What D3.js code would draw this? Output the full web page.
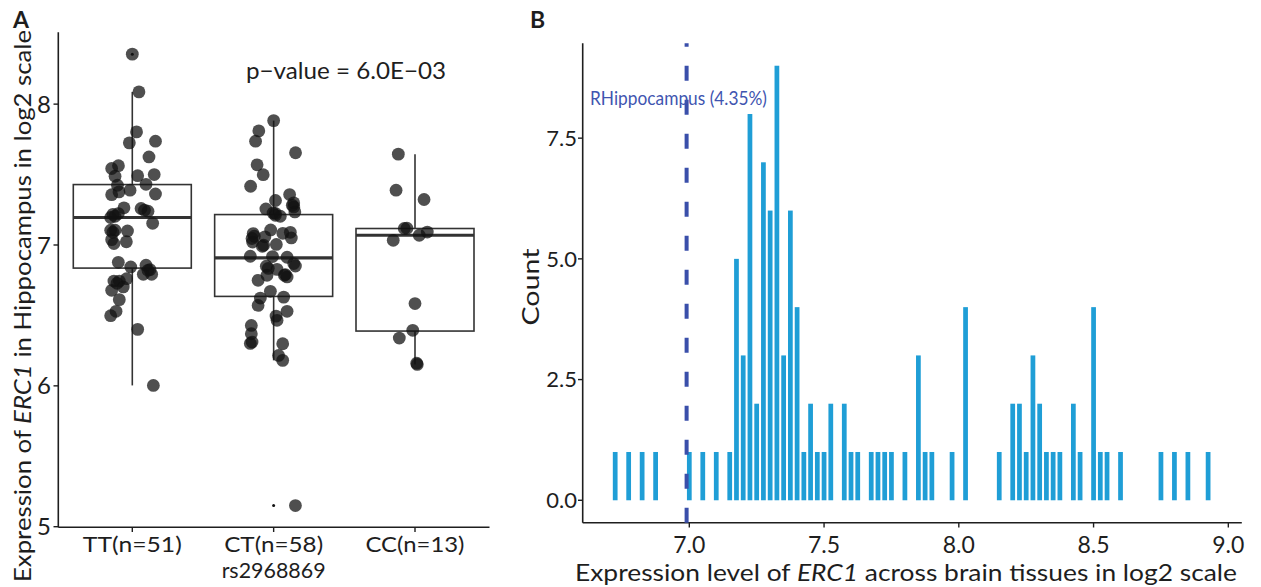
<!DOCTYPE html>
<html><head><meta charset="utf-8">
<script src="https://cdn.jsdelivr.net/npm/d3@7"></script>
<style>
body{margin:0;background:#fff;}
text{font-family:Lato,"Noto Sans",sans-serif;}
</style></head>
<body><svg id="c" width="1261" height="587"></svg>
<script>
// ---------- Panel A data ----------
const groups = ["TT(n=51)", "CT(n=58)", "CC(n=13)"];
const ttValues = [8.355,8.087,7.803,7.725,7.737,7.625,7.543,7.563,7.488,7.492,7.500,7.431,7.424,7.357,7.377,7.389,7.362,7.264,7.259,7.247,7.195,7.204,7.223,7.154,7.105,7.105,7.100,7.038,7.010,7.023,6.877,6.844,6.856,6.825,6.792,6.792,6.744,6.744,6.702,6.761,6.678,6.612,6.529,6.498,6.401,6.003,7.218,7.240,7.090,6.820,6.728];
const ttJitter = [0,0.047,0.030,-0.021,0.164,0.118,-0.146,-0.098,-0.122,0.038,0.155,0.097,-0.105,-0.146,-0.094,-0.016,0.164,-0.059,0.062,0.086,-0.153,-0.122,-0.099,0.144,-0.153,-0.122,-0.034,-0.146,-0.130,-0.042,-0.099,-0.011,0.097,0.125,0.078,0.137,-0.130,-0.092,-0.064,-0.040,-0.146,-0.092,-0.115,-0.153,0.038,0.149,-0.137,0.111,-0.137,0.111,-0.108];
const ctValues = [7.883,7.810,7.737,7.655,7.569,7.499,7.417,7.358,7.316,7.299,7.270,7.256,7.235,7.227,7.211,7.204,7.081,7.046,7.021,7.107,7.058,7.083,7.050,6.998,7.004,6.920,6.918,6.913,6.868,6.851,6.834,6.827,6.785,6.790,6.773,6.749,6.671,6.623,6.571,6.630,6.529,6.495,6.465,6.429,6.370,6.311,6.301,6.299,6.216,6.181,5.150,7.090,7.062,7.225,6.849,6.785,6.991,7.282];
const ctJitter = [0,-0.105,-0.128,0.155,-0.117,-0.074,-0.163,0.113,0.013,0.142,0.142,-0.055,0.150,-0.004,0.012,0.047,-0.145,-0.153,-0.149,-0.021,-0.062,0.065,0.125,-0.071,0.019,-0.165,-0.008,0.095,0.142,0.154,-0.038,0.024,-0.047,0.083,0.095,-0.110,-0.023,-0.094,-0.110,0.071,0.095,0.017,0.024,-0.158,-0.158,-0.153,-0.165,0.064,0.035,0.064,0.154,0.118,-0.137,0.012,-0.052,0.076,-0.080,0.132];
const ccValues = [7.645,7.389,7.323,7.117,7.033,7.069,7.092,6.584,6.394,6.339,6.161,6.152,7.119];
const ccJitter = [-0.118,-0.134,0.064,-0.076,-0.154,0.030,0.087,0,-0.016,-0.111,0.012,0.016,-0.057];
// box statistics
const boxLower  = [6.003, 6.181, 6.152];
const boxQ1     = [6.836, 6.635, 6.389];
const boxMedian = [7.195, 6.908, 7.069];
const boxQ3     = [7.429, 7.216, 7.117];
const boxUpper  = [8.087, 7.883, 7.645];
const outlierGroup = ["TT(n=51)", "CT(n=58)"];
const outlierValue = [8.355, 5.150];
const yTicksA = [5, 6, 7, 8];
const pValueText = "p\u2212value = 6.0E\u221203";

// ---------- Panel B data ----------
const binCenters = [6.725,6.775,6.825,6.875,7.0,7.05,7.1,7.15,7.175,7.2,7.225,7.25,7.275,7.3,7.325,7.35,7.375,7.4,7.425,7.45,7.475,7.5,7.525,7.575,7.6,7.625,7.675,7.7,7.725,7.75,7.8,7.85,7.875,7.9,7.975,8.025,8.15,8.2,8.225,8.25,8.275,8.3,8.325,8.35,8.375,8.425,8.45,8.5,8.525,8.55,8.6,8.75,8.8,8.85,8.925];
const binCounts  = [1,1,1,1,1,1,1,1,5,3,8,2,7,6,9,3,6,4,1,2,1,1,2,2,1,1,1,1,1,1,1,3,1,1,1,4,1,2,2,1,3,2,1,1,1,2,1,4,1,1,1,1,1,1,1];
const binWidth = 0.025;
const xTicksB = [7.0, 7.5, 8.0, 8.5, 9.0];
const yTicksB = [0, 2.5, 5.0, 7.5];
const cutoffValue = 6.99;
const cutoffLabel = "RHippocampus (4.35%)";

const svg = d3.select("#c");
const ink = "#1e1e1e";

// ================= Panel A =================
const xA = d3.scalePoint().domain(groups).range([132.3, 415]);
const yA = d3.scaleLinear().domain([5, 8.51]).range([526.7, 32.3]);
const step = xA.step();
const boxW = 118;
const gA = svg.append("g");

// axes
gA.append("line").attr("x1", 58.3).attr("x2", 58.3).attr("y1", yA(8.51)).attr("y2", 527.3).attr("stroke", ink).attr("stroke-width", 1.6);
gA.append("line").attr("x1", 58.3).attr("x2", 489.5).attr("y1", 527.3).attr("y2", 527.3).attr("stroke", ink).attr("stroke-width", 1.6);
yTicksA.forEach(t => {
  gA.append("line").attr("x1", 53.5).attr("x2", 58.3).attr("y1", yA(t)).attr("y2", yA(t)).attr("stroke", ink).attr("stroke-width", 1.4);
  gA.append("text").attr("x", 51).attr("y", yA(t)).attr("dy", "0.36em").attr("text-anchor", "end")
    .attr("font-size", 24).attr("fill", ink).text(t);
});
groups.forEach(g => {
  gA.append("line").attr("x1", xA(g)).attr("x2", xA(g)).attr("y1", 527.3).attr("y2", 532).attr("stroke", ink).attr("stroke-width", 1.4);
  gA.append("text").attr("x", xA(g)).attr("y", 552).attr("text-anchor", "middle")
    .attr("font-size", 22).attr("fill", ink).attr("textLength", 99).attr("lengthAdjust", "spacingAndGlyphs").text(g);
});
gA.append("text").attr("x", xA(groups[1])).attr("y", 578).attr("text-anchor", "middle")
  .attr("font-size", 22).attr("fill", ink).attr("textLength", 104).attr("lengthAdjust", "spacingAndGlyphs").text("rs2968869");
// y title
const ytA = gA.append("text").attr("transform", "translate(31,306) rotate(-90)").attr("text-anchor", "middle")
  .attr("font-size", 23).attr("fill", ink).attr("textLength", 552).attr("lengthAdjust", "spacingAndGlyphs");
ytA.append("tspan").text("Expression of ");
ytA.append("tspan").attr("font-style", "italic").text("ERC1");
ytA.append("tspan").text(" in Hippocampus in log2 scale");

// boxes
groups.forEach((g, i) => {
  const cx = xA(g);
  gA.append("line").attr("x1", cx).attr("x2", cx).attr("y1", yA(boxUpper[i])).attr("y2", yA(boxQ3[i])).attr("stroke", "#333").attr("stroke-width", 1.6);
  gA.append("line").attr("x1", cx).attr("x2", cx).attr("y1", yA(boxQ1[i])).attr("y2", yA(boxLower[i])).attr("stroke", "#333").attr("stroke-width", 1.6);
  gA.append("rect").attr("x", cx - boxW / 2).attr("width", boxW).attr("y", yA(boxQ3[i])).attr("height", yA(boxQ1[i]) - yA(boxQ3[i]))
    .attr("fill", "#fff").attr("stroke", "#333").attr("stroke-width", 1.6);
  gA.append("line").attr("x1", cx - boxW / 2).attr("x2", cx + boxW / 2).attr("y1", yA(boxMedian[i])).attr("y2", yA(boxMedian[i])).attr("stroke", "#333").attr("stroke-width", 3.2);
});
outlierGroup.forEach((g, i) => {
  gA.append("circle").attr("cx", xA(g)).attr("cy", yA(outlierValue[i])).attr("r", 1.5).attr("fill", "#111");
});
// jittered points
const pts = [];
[[ttValues, ttJitter], [ctValues, ctJitter], [ccValues, ccJitter]].forEach(([vals, jit], gi) => {
  vals.forEach((v, k) => pts.push({ g: groups[gi], v, j: jit[k] }));
});
gA.selectAll("circle.pt").data(pts).join("circle").attr("class", "pt")
  .attr("cx", d => xA(d.g) + d.j * step).attr("cy", d => yA(d.v)).attr("r", 6.4)
  .attr("fill", "#111").attr("fill-opacity", 0.74);
gA.append("text").attr("x", 346).attr("y", 79).attr("text-anchor", "middle").attr("font-size", 24).attr("fill", ink)
  .attr("textLength", 200).attr("lengthAdjust", "spacingAndGlyphs").text(pValueText);
svg.append("text").attr("x", 13).attr("y", 28).attr("font-size", 23).attr("font-weight", "bold").attr("fill", ink).text("A");

// ================= Panel B =================
const xB = d3.scaleLinear().domain([6.6, 9.05]).range([581.5, 1241.8]);
const yB = d3.scaleLinear().domain([-0.45, 9.45]).range([522, 44]);
const gB = svg.append("g");
gB.selectAll("rect.bar").data(binCenters.map((c, i) => ({ c, n: binCounts[i] }))).join("rect").attr("class", "bar")
  .attr("x", d => xB(d.c - binWidth / 2) + 1)
  .attr("width", d => xB(d.c + binWidth / 2) - xB(d.c - binWidth / 2) - 2)
  .attr("y", d => yB(d.n)).attr("height", d => yB(0) - yB(d.n))
  .attr("fill", "#1f9ed6");
// axes
gB.append("line").attr("x1", 582.7).attr("x2", 582.7).attr("y1", 43.3).attr("y2", 522.7).attr("stroke", ink).attr("stroke-width", 1.6);
gB.append("line").attr("x1", 582.7).attr("x2", 1241.8).attr("y1", 522.7).attr("y2", 522.7).attr("stroke", ink).attr("stroke-width", 1.6);
yTicksB.forEach(t => {
  gB.append("line").attr("x1", 578).attr("x2", 582.7).attr("y1", yB(t)).attr("y2", yB(t)).attr("stroke", ink).attr("stroke-width", 1.4);
  gB.append("text").attr("x", 577).attr("y", yB(t)).attr("dy", "0.36em").attr("text-anchor", "end")
    .attr("font-size", 22).attr("fill", ink).text(d3.format(".1f")(t));
});
xTicksB.forEach(t => {
  gB.append("line").attr("x1", xB(t)).attr("x2", xB(t)).attr("y1", 522.7).attr("y2", 527.5).attr("stroke", ink).attr("stroke-width", 1.4);
  gB.append("text").attr("x", xB(t)).attr("y", 553).attr("text-anchor", "middle")
    .attr("font-size", 23).attr("fill", ink).text(d3.format(".1f")(t));
});
gB.append("line").attr("x1", xB(cutoffValue)).attr("x2", xB(cutoffValue)).attr("y1", 522.7).attr("y2", 43.3)
  .attr("stroke", "#3a4faa").attr("stroke-width", 4).attr("stroke-dasharray", "15,19");
gB.append("text").attr("x", 590).attr("y", 105).attr("font-size", 20).attr("fill", "#3f55b0")
  .attr("textLength", 177).attr("lengthAdjust", "spacingAndGlyphs").text(cutoffLabel);
gB.append("text").attr("transform", "translate(539,287) rotate(-90)").attr("text-anchor", "middle")
  .attr("font-size", 24).attr("fill", ink).attr("textLength", 77).attr("lengthAdjust", "spacingAndGlyphs").text("Count");
const xtB = gB.append("text").attr("x", 906).attr("y", 581).attr("text-anchor", "middle").attr("font-size", 24).attr("fill", ink)
  .attr("textLength", 662).attr("lengthAdjust", "spacingAndGlyphs");
xtB.append("tspan").text("Expression level of ");
xtB.append("tspan").attr("font-style", "italic").text("ERC1");
xtB.append("tspan").text(" across brain tissues in log2 scale");
svg.append("text").attr("x", 530).attr("y", 28).attr("font-size", 23).attr("font-weight", "bold").attr("fill", ink).text("B");
</script>
</body></html>
